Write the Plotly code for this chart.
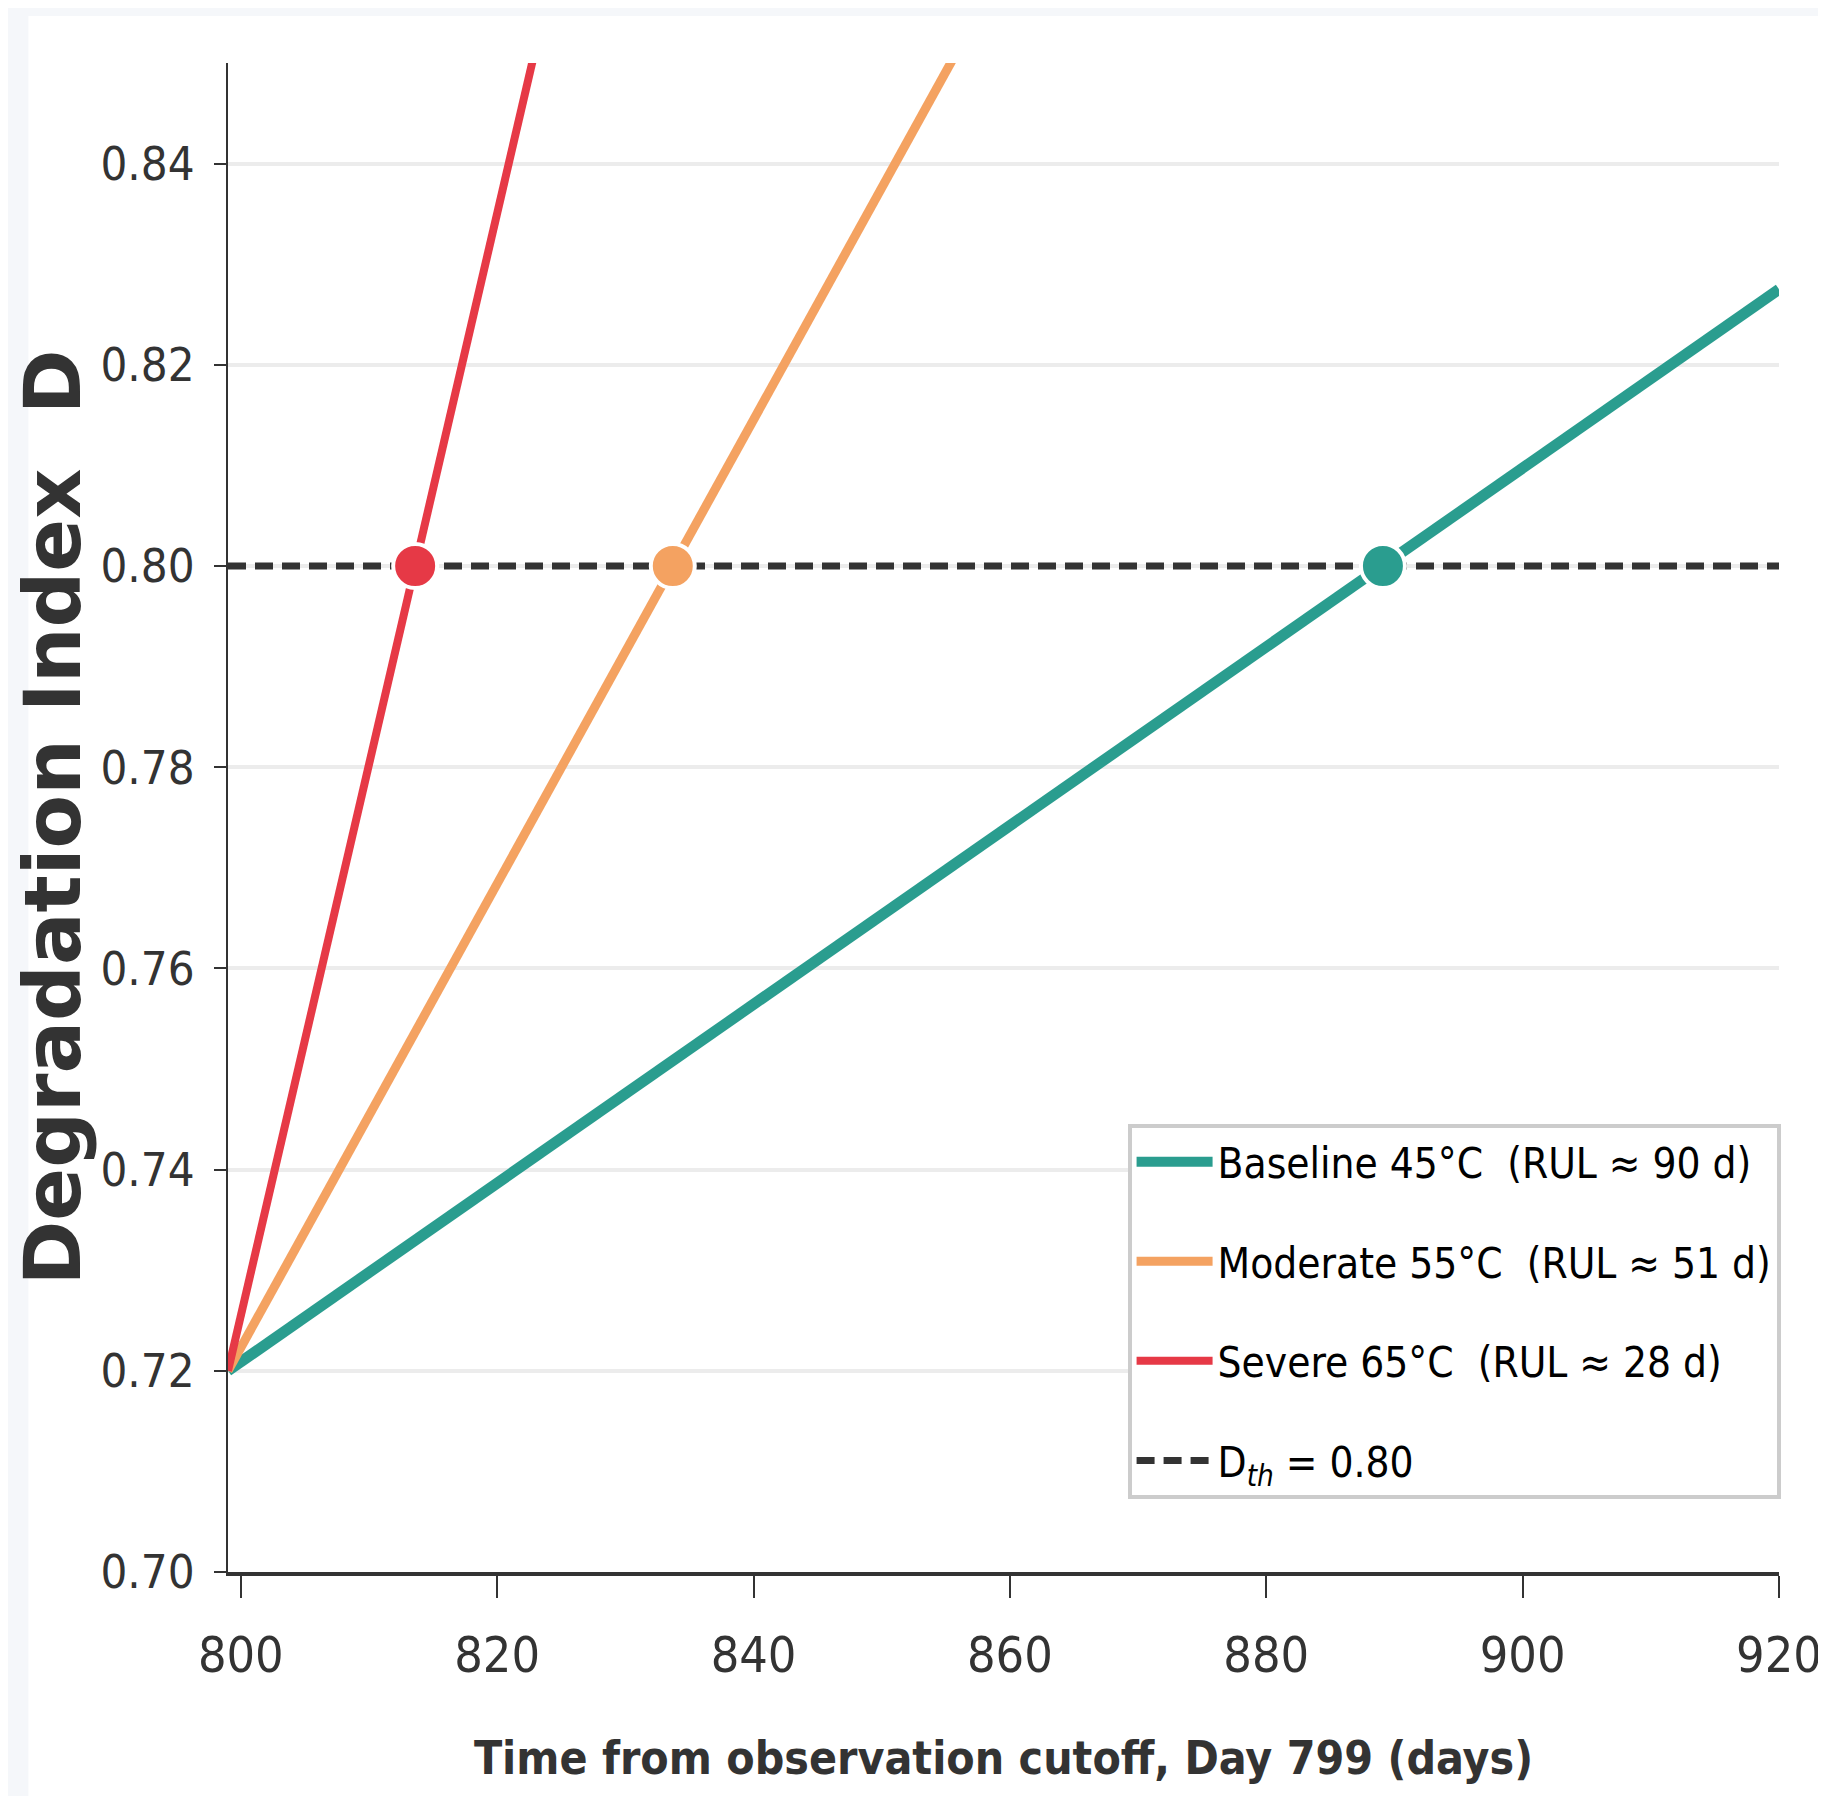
import plotly.graph_objects as go

# ---- data ----
days = [799, 920]
baseline_D = [0.72, 0.8275]
moderate_D = [0.72, 0.999]
severe_D = [0.72, 1.383]
threshold_days = [799, 920]
threshold_D = [0.80, 0.80]
cross_days = [889.1, 833.7, 813.6]
cross_D = [0.80, 0.80, 0.80]

names = ["Baseline 45°C  (RUL ≈ 90 d)", "Moderate 55°C  (RUL ≈ 51 d)", "Severe 65°C  (RUL ≈ 28 d)"]
colors = ["#2a9d8f", "#f4a261", "#e63946"]
widths = [11, 9, 8]
series = [baseline_D, moderate_D, severe_D]

x_ticks = [800, 820, 840, 860, 880, 900, 920]
y_ticks = [0.70, 0.72, 0.74, 0.76, 0.78, 0.80, 0.82, 0.84]

NARROW = "DejaVu Sans Condensed, DejaVu Sans, sans-serif"
DARK = "#333333"

fig = go.Figure()
for i, (n, c, w, s) in enumerate(zip(names, colors, widths, series)):
    fig.add_trace(go.Scatter(x=days, y=s, mode="lines", name=n,
                             line=dict(color=c, width=w), legendgroup=f"g{i}"))
fig.add_trace(go.Scatter(x=threshold_days, y=threshold_D, mode="lines",
                         name="D<sub><i>th</i></sub> = 0.80",
                         line=dict(color=DARK, width=7, dash="18px,9px"), legendgroup="g3"))
fig.add_trace(go.Scatter(x=cross_days, y=cross_D, mode="markers", showlegend=False,
                         marker=dict(size=44, color=colors, line=dict(color="white", width=4))))

fig.update_layout(
    width=1826, height=1796,
    paper_bgcolor="white", plot_bgcolor="white",
    margin=dict(l=220, r=44, t=55, b=232),
    showlegend=True,
    legend=dict(x=0.58, y=0.297, xanchor="left", yanchor="top",
                bgcolor="white", bordercolor="#cccccc", borderwidth=4,
                font=dict(family=NARROW, size=42, color="black"),
                tracegroupgap=42, itemwidth=76),
    shapes=[
        dict(type="rect", xref="paper", yref="paper", x0=-0.2, x1=-0.1287, y0=-0.3, y1=1.1,
             fillcolor="#f5f7fa", line=dict(width=0), layer="below"),
        dict(type="rect", xref="paper", yref="paper", x0=-0.2, x1=1.1, y0=1.0311, y1=1.1,
             fillcolor="#f5f7fa", line=dict(width=0), layer="below"),
    ],
)
fig.update_xaxes(range=[799, 920], tickvals=x_ticks, ticktext=[str(v) for v in x_ticks],
                 showgrid=False, zeroline=False,
                 showline=True, linecolor=DARK, linewidth=4,
                 ticks="outside", ticklen=22, tickwidth=2, tickcolor=DARK,
                 tickfont=dict(family=NARROW, size=50, color=DARK), ticklabelstandoff=14,
                 ticklabeloverflow="allow",
                 title=dict(text="<b>Time from observation cutoff, Day 799 (days)</b>",
                            font=dict(family=NARROW, size=46, color=DARK), standoff=60))
fig.update_yaxes(range=[0.70, 0.85], tickvals=y_ticks, ticktext=[f"{v:.2f}" for v in y_ticks],
                 showgrid=True, gridcolor="#ececec", gridwidth=4, zeroline=False,
                 showline=True, linecolor=DARK, linewidth=2,
                 ticks="outside", ticklen=12, tickwidth=2, tickcolor=DARK,
                 tickfont=dict(family=NARROW, size=47, color=DARK), ticklabelstandoff=10,
                 title=dict(text="<b>Degradation Index\u00a0\u00a0D</b>",
                            font=dict(family="DejaVu Sans", size=78, color=DARK), standoff=4))

fig.write_html("out.html")
